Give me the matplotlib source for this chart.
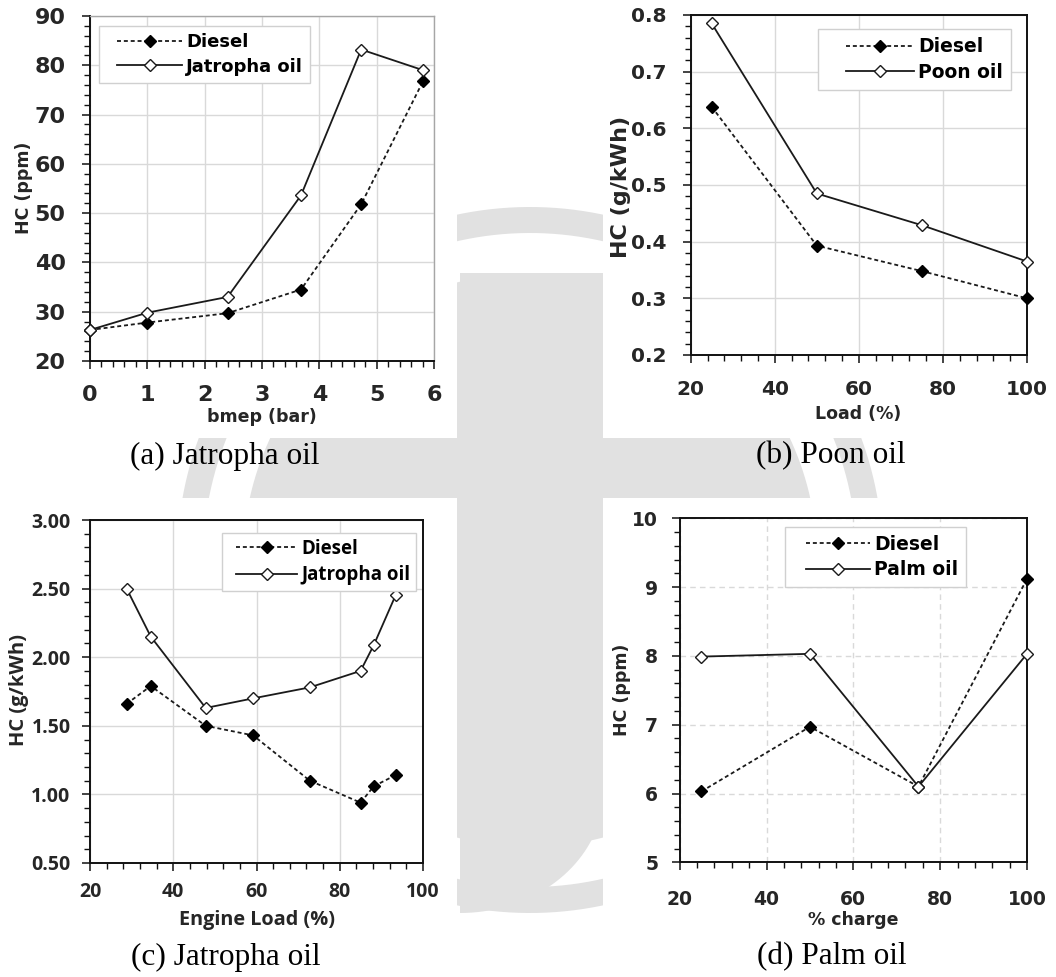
import matplotlib
matplotlib.use("Agg")
import matplotlib.pyplot as plt
import numpy as np
from matplotlib.patches import Rectangle
from matplotlib.ticker import MultipleLocator, FormatStrFormatter
from matplotlib.legend_handler import HandlerLine2D
from matplotlib.lines import Line2D

W, H = 1056, 977

# (a) Jatropha oil: HC vs bmep
bmep_bar = [0, 1.0, 2.4, 3.68, 4.73, 5.81]
hc_a_diesel = [26.3, 27.8, 29.7, 34.5, 51.8, 76.8]
hc_a_jatropha = [26.3, 29.8, 33.0, 53.6, 83.2, 79.0]

# (b) Poon oil: HC vs load
load_b = [25, 50, 75, 100]
hc_b_diesel = [0.638, 0.393, 0.348, 0.300]
hc_b_poon = [0.785, 0.485, 0.429, 0.365]

# (c) Jatropha oil: HC vs engine load
engine_load_c = [28.8, 34.6, 47.8, 59.2, 72.8, 85.0, 88.2, 93.4]
hc_c_diesel = [1.66, 1.79, 1.50, 1.43, 1.10, 0.94, 1.06, 1.14]
hc_c_jatropha = [2.50, 2.15, 1.63, 1.70, 1.78, 1.90, 2.09, 2.45]

# (d) Palm oil: HC vs % charge
charge_d = [25, 50, 75, 100]
hc_d_diesel = [6.03, 6.97, 6.10, 9.12]
hc_d_palm = [7.99, 8.03, 6.10, 8.03]

captions = ["(a) Jatropha oil", "(b) Poon oil", "(c) Jatropha oil", "(d) Palm oil"]

fig = plt.figure(figsize=(W / 100, H / 100), dpi=100)

# ---- faint background emblem --------------------------------------------
bg = fig.add_axes([0, 0, 1, 1], zorder=-10)
bg.set_xlim(0, W)
bg.set_ylim(H, 0)
bg.axis("off")
wm = "#e1e1e1"
th = np.linspace(0, 2 * np.pi, 240)
cx, cy = 530, 560
# outer ring
bg.fill(np.r_[cx + 353 * np.cos(th), cx + 327 * np.cos(th[::-1])],
        np.r_[cy + 353 * np.sin(th), cy + 327 * np.sin(th[::-1])],
        color=wm, lw=0, zorder=0.2)
# inner disk
bg.fill(cx + 287 * np.cos(th), cy + 287 * np.sin(th), color=wm, lw=0, zorder=0.3)
# stem
t = np.linspace(0, np.pi / 2, 40)
stem_x = np.r_[460, 604, 460 + 144 * np.cos(t), 460]
stem_y = np.r_[273, 273, 790 + 123 * np.sin(t), 913]
bg.fill(stem_x, stem_y, color=wm, lw=0, zorder=0.4)
# white cards behind each panel
for (x0, y0, x1, y1) in [(0, 0, 457, 438), (603, 0, W, 438), (0, 498, 457, 937), (603, 498, W, 937)]:
    bg.add_patch(Rectangle((x0, y0), x1 - x0, y1 - y0, facecolor="white", edgecolor="none", zorder=1))


def add_ax(l, t_, r, b):
    return fig.add_axes([l / W, 1 - b / H, (r - l) / W, (b - t_) / H])


def style(ax, fam, tsize, xlsize, ylsize, xpad, ypad, grid_ls="-", light_frame=False):
    ax.set_facecolor("white")
    for side in ["left", "bottom", "top", "right"]:
        ax.spines[side].set_color("#111111")
        ax.spines[side].set_linewidth(1.4)
    if light_frame:
        for side in ["top", "right"]:
            ax.spines[side].set_color("#a6a6a6")
            ax.spines[side].set_linewidth(1.0)
    ax.grid(True, which="major", color="#d9d9d9", lw=1.0, ls=grid_ls)
    ax.set_axisbelow(True)
    ax.tick_params(which="major", direction="out", length=6, width=1.1, color="#111111",
                   labelsize=tsize, labelcolor="#262626")
    ax.tick_params(which="minor", direction="out", length=4.5, width=1.0, color="#111111")
    ax.tick_params(axis="x", which="major", pad=xpad)
    ax.tick_params(axis="y", which="major", pad=ypad)
    for lab in ax.get_xticklabels() + ax.get_yticklabels():
        lab.set_family(fam)
        lab.set_fontweight("bold")
    for lab, sz in [(ax.xaxis.label, xlsize), (ax.yaxis.label, ylsize)]:
        lab.set_family(fam)
        lab.set_fontweight("bold")
        lab.set_size(sz)
        lab.set_color("#262626")


def plot_pair(ax, x, yd, yb, name, fam, fsize, anchor, bpad, xpad, hlen):
    ax.plot(x, yd, ls=(0, (2.2, 1.6)), lw=1.3, color="#1a1a1a", marker="D", ms=6,
            mfc="black", mec="black", label="Diesel", clip_on=False, zorder=3)
    ax.plot(x, yb, ls="-", lw=1.3, color="#1a1a1a", marker="D", ms=6,
            mfc="white", mec="#1a1a1a", mew=1.0, label=name, clip_on=False, zorder=4)
    leg = ax.legend(loc="upper left", bbox_to_anchor=anchor, borderaxespad=0, fancybox=False,
                    framealpha=1, edgecolor="#d0d0d0", handlelength=hlen, handletextpad=0.22,
                    labelspacing=0.35, borderpad=bpad,
                    handler_map={Line2D: HandlerLine2D(xpad=xpad)},
                    prop={"family": fam, "weight": "bold", "size": fsize})
    leg.get_frame().set_linewidth(1.0)
    return leg


# ---- (a) -----------------------------------------------------------------
axa = add_ax(90, 16, 434, 361)
plot_pair(axa, bmep_bar, hc_a_diesel, hc_a_jatropha, "Jatropha oil", "DejaVu Sans", 13,
          ((99 - 90) / 344, 1 - (26 - 16) / 345), 0.4, 0.6, 4.2)
axa.set_xlim(0, 6)
axa.set_ylim(20, 90)
axa.xaxis.set_major_locator(MultipleLocator(1))
axa.xaxis.set_minor_locator(MultipleLocator(0.2))
axa.yaxis.set_major_locator(MultipleLocator(10))
axa.yaxis.set_minor_locator(MultipleLocator(2))
axa.set_xlabel("bmep (bar)")
axa.set_ylabel("HC (ppm)")
style(axa, "DejaVu Sans", 16, 12.5, 12.5, 11.5, 11.5, light_frame=True)
axa.xaxis.set_label_coords((262 - 90) / 344, -(408 - 361) / 345)
axa.yaxis.set_label_coords(-(90 - 33) / 344, 1 - (188 - 16) / 345)

# ---- (b) -----------------------------------------------------------------
axb = add_ax(690.7, 15, 1027, 355)
plot_pair(axb, load_b, hc_b_diesel, hc_b_poon, "Poon oil", "DejaVu Sans", 13.5,
          ((818 - 690.7) / 336.3, 1 - (29 - 15) / 340), 0.45, 1.05, 4.67)
axb.set_xlim(20, 100)
axb.set_ylim(0.2, 0.8)
axb.xaxis.set_major_locator(MultipleLocator(20))
axb.xaxis.set_minor_locator(MultipleLocator(4))
axb.yaxis.set_major_locator(MultipleLocator(0.1))
axb.yaxis.set_minor_locator(MultipleLocator(0.02))
axb.yaxis.set_major_formatter(FormatStrFormatter("%.1f"))
axb.set_xlabel("Load (%)")
axb.set_ylabel("HC (g/kWh)")
style(axb, "DejaVu Sans", 14.5, 12.5, 16, 12, 11.5)
axb.xaxis.set_label_coords((858 - 690.7) / 336.3, -(405 - 355) / 340)
axb.yaxis.set_label_coords(-(690.7 - 631) / 336.3, 1 - (187 - 15) / 340)

# ---- (c) -----------------------------------------------------------------
axc = add_ax(90, 520, 423, 863)
plot_pair(axc, engine_load_c, hc_c_diesel, hc_c_jatropha, "Jatropha oil", "Open Sans", 13.5,
          ((222 - 90) / 333, 1 - (533 - 520) / 343), 0.3, 0.45, 3.7)
axc.set_xlim(20, 100)
axc.set_ylim(0.5, 3.0)
axc.xaxis.set_major_locator(MultipleLocator(20))
axc.xaxis.set_minor_locator(MultipleLocator(4))
axc.yaxis.set_major_locator(MultipleLocator(0.5))
axc.yaxis.set_minor_locator(MultipleLocator(0.1))
axc.yaxis.set_major_formatter(FormatStrFormatter("%.2f"))
axc.set_xlabel("Engine Load (%)")
axc.set_ylabel("HC (g/kWh)")
style(axc, "Open Sans", 14, 14.3, 14.5, 8, 8)
axc.xaxis.set_label_coords((257 - 90) / 333, -(910 - 863) / 343)
axc.yaxis.set_label_coords(-(90 - 29) / 333, 1 - (690 - 520) / 343)

# ---- (d) -----------------------------------------------------------------
axd = add_ax(679.7, 518.3, 1027, 862.3)
plot_pair(axd, charge_d, hc_d_diesel, hc_d_palm, "Palm oil", "DejaVu Sans", 13.5,
          ((785 - 679.7) / 347.3, 1 - (527 - 518.3) / 344), 0.4, 0.72, 4.13)
axd.set_xlim(20, 100)
axd.set_ylim(5, 10)
axd.xaxis.set_major_locator(MultipleLocator(20))
axd.xaxis.set_minor_locator(MultipleLocator(4))
axd.yaxis.set_major_locator(MultipleLocator(1))
axd.yaxis.set_minor_locator(MultipleLocator(0.2))
axd.set_xlabel("% charge")
axd.set_ylabel("HC (ppm)")
style(axd, "DejaVu Sans", 13.5, 12.5, 12.5, 14, 9.5, grid_ls=(0, (4, 3)))
axd.xaxis.set_label_coords((853 - 679.7) / 347.3, -(911 - 862.3) / 344)
axd.yaxis.set_label_coords(-(679.7 - 631) / 347.3, 1 - (690 - 518.3) / 344)

# ---- captions ------------------------------------------------------------
for txt, (tx, ty) in zip(captions, [(225, 456), (831, 456), (226, 957), (832, 957)]):
    fig.text(tx / W, 1 - ty / H, txt, ha="center", va="center",
             family="Liberation Serif", size=22.5, color="black")

fig.savefig("out.png", dpi=100, facecolor="white")
